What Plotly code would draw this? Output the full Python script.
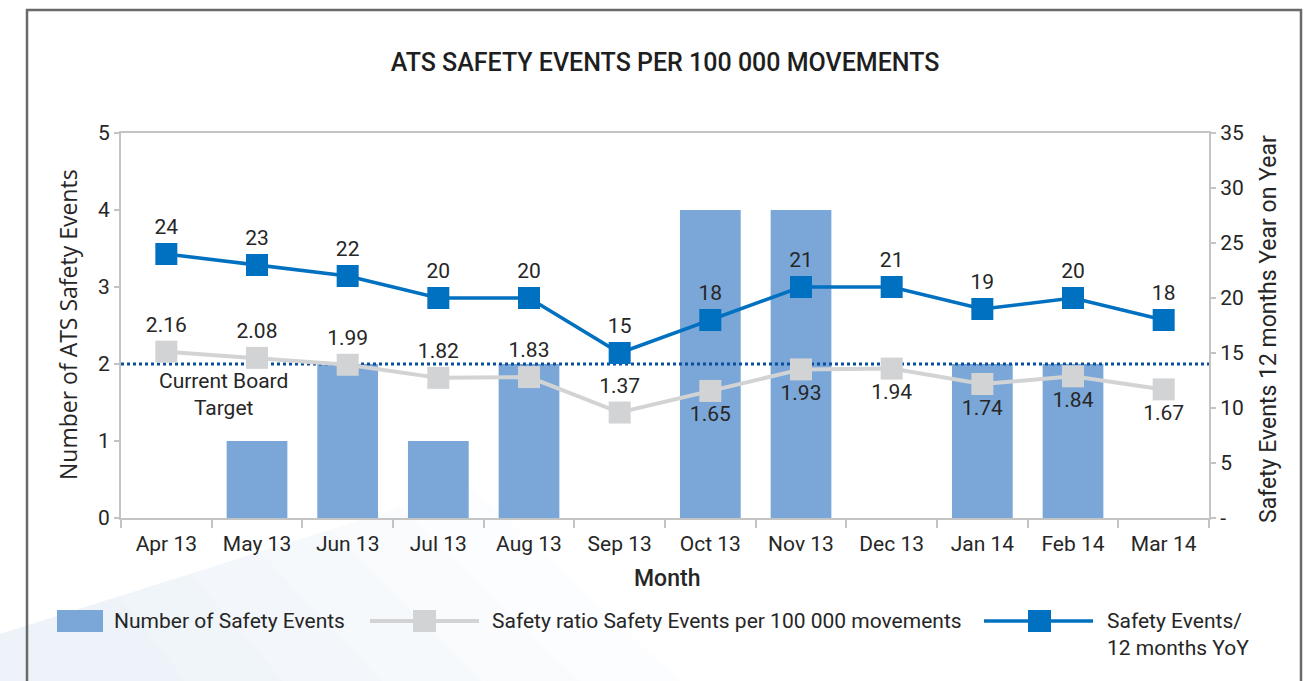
import plotly.graph_objects as go

# Monthly data
months = ["Apr 13", "May 13", "Jun 13", "Jul 13", "Aug 13", "Sep 13",
          "Oct 13", "Nov 13", "Dec 13", "Jan 14", "Feb 14", "Mar 14"]
safety_events = [0, 1, 2, 1, 2, 0, 4, 4, 0, 2, 2, 0]
safety_ratio = [2.16, 2.08, 1.99, 1.82, 1.83, 1.37, 1.65, 1.93, 1.94, 1.74, 1.84, 1.67]
events_yoy = [24, 23, 22, 20, 20, 15, 18, 21, 21, 19, 20, 18]
ratio_label_pos = ["top center"] * 6 + ["bottom center"] * 6
board_target = 2

left_ticks = [0, 1, 2, 3, 4, 5]
right_ticks = [0, 5, 10, 15, 20, 25, 30, 35]
right_ticktext = ["-", "5", "10", "15", "20", "25", "30", "35"]

W, H = 1313, 681
L, R, T, B = 121, 1209, 133, 518

FONT = "Roboto"
TXT = "#262626"
AX = "#c4c4c4"
BAR = "#7ba7d8"
GREY = "#d2d3d4"
BLUE = "#0070c0"
TARGET = "#0b4f9c"
FS = 21


def px(x):
    return (x - L) / (R - L)


def py(y):
    return (B - y) / (B - T)


xs = list(range(len(months)))
bar_x = [i for i, v in zip(xs, safety_events) if v]
bar_y = [v for v in safety_events if v]

fig = go.Figure()

fig.add_trace(go.Bar(
    x=bar_x, y=bar_y, width=0.67, marker=dict(color=BAR, line=dict(width=0)),
    name="Number of Safety Events", hoverinfo="skip",
))

fig.add_trace(go.Scatter(
    x=[-0.5, len(months) - 0.5], y=[board_target, board_target], mode="lines",
    line=dict(color=TARGET, width=3, dash="dot"), hoverinfo="skip",
))

fig.add_trace(go.Scatter(
    x=xs, y=safety_ratio, mode="lines+markers+text",
    line=dict(color=GREY, width=4),
    marker=dict(symbol="square", size=22, color=GREY),
    text=[f"{v:.2f}" for v in safety_ratio], textposition=ratio_label_pos,
    textfont=dict(family=FONT, size=FS, color=TXT),
    name="Safety ratio Safety Events per 100 000 movements",
))

fig.add_trace(go.Scatter(
    x=xs, y=events_yoy, mode="lines+markers+text", yaxis="y2",
    line=dict(color=BLUE, width=3.5),
    marker=dict(symbol="square", size=22, color=BLUE),
    text=[str(v) for v in events_yoy], textposition="top center",
    textfont=dict(family=FONT, size=FS, color=TXT),
    name="Safety Events/ 12 months YoY",
))

shapes = []
annotations = []

# faint backdrop wedge in the lower-left corner, fading to the right
for top_x, bot_x in [(120, 200), (190, 300), (260, 400), (330, 500), (400, 600), (470, 700)]:
    top_y = 634 - top_x * (114 / 360)
    pts = [(0, 700), (0, 634), (top_x, top_y), (bot_x, 700)]
    path = "M " + " L ".join(f"{px(a)},{py(b)}" for a, b in pts) + " Z"
    shapes.append(dict(type="path", xref="paper", yref="paper", path=path,
                       fillcolor="rgba(205,212,235,0.05)", line=dict(width=0),
                       layer="below"))

# outer frame
shapes.append(dict(type="rect", xref="paper", yref="paper",
                   x0=px(27), x1=px(1301), y0=py(700), y1=py(10),
                   line=dict(color="#6a6a6a", width=2.5), fillcolor="rgba(0,0,0,0)"))

# legend
LY = 621
shapes.append(dict(type="rect", xref="paper", yref="paper",
                   x0=px(57), x1=px(103), y0=py(632), y1=py(610),
                   fillcolor=BAR, line=dict(width=0)))
annotations.append(dict(x=px(112), y=py(LY), xref="paper", yref="paper",
                        text="Number of Safety Events", showarrow=False,
                        xanchor="left", yanchor="middle",
                        font=dict(family=FONT, size=FS, color=TXT)))

shapes.append(dict(type="line", xref="paper", yref="paper",
                   x0=px(370), x1=px(479), y0=py(LY), y1=py(LY),
                   line=dict(color=GREY, width=4)))
shapes.append(dict(type="rect", xref="paper", yref="paper",
                   x0=px(413), x1=px(436), y0=py(LY + 11), y1=py(LY - 11),
                   fillcolor=GREY, line=dict(width=0)))
annotations.append(dict(x=px(490), y=py(LY), xref="paper", yref="paper",
                        text="Safety ratio Safety Events per 100 000 movements",
                        showarrow=False, xanchor="left", yanchor="middle",
                        font=dict(family=FONT, size=FS, color=TXT)))

shapes.append(dict(type="line", xref="paper", yref="paper",
                   x0=px(984), x1=px(1093), y0=py(LY), y1=py(LY),
                   line=dict(color=BLUE, width=3.5)))
shapes.append(dict(type="rect", xref="paper", yref="paper",
                   x0=px(1028), x1=px(1051), y0=py(LY + 11), y1=py(LY - 11),
                   fillcolor=BLUE, line=dict(width=0)))
annotations.append(dict(x=px(1105), y=py(634), xref="paper", yref="paper",
                        text="Safety Events/<br>12 months YoY", showarrow=False,
                        xanchor="left", yanchor="middle", align="left",
                        font=dict(family=FONT, size=FS, color=TXT)))

# target label
annotations.append(dict(x=px(223), y=py(394), xref="paper", yref="paper",
                        text="Current Board<br>Target", showarrow=False,
                        xanchor="center", yanchor="middle", align="center",
                        font=dict(family=FONT, size=FS, color=TXT)))

# axis titles
annotations.append(dict(x=px(68), y=py(325), xref="paper", yref="paper",
                        text="Number of ATS Safety Events", showarrow=False,
                        textangle=-90, xanchor="center", yanchor="middle",
                        font=dict(family="Open Sans", size=23, color=TXT)))
annotations.append(dict(x=px(1268), y=py(329), xref="paper", yref="paper",
                        text="Safety Events 12 months Year on Year", showarrow=False,
                        textangle=-90, xanchor="center", yanchor="middle",
                        font=dict(family=FONT, size=23, color=TXT)))
annotations.append(dict(x=px(667), y=py(578), xref="paper", yref="paper",
                        text="Month", showarrow=False,
                        xanchor="center", yanchor="middle",
                        font=dict(family=FONT, size=23, color=TXT, weight=500)))

fig.update_layout(
    width=W, height=H,
    margin=dict(l=L, r=W - R, t=T, b=H - B, pad=0),
    paper_bgcolor="white", plot_bgcolor="rgba(0,0,0,0)",
    showlegend=False,
    title=dict(text="ATS SAFETY EVENTS PER 100 000 MOVEMENTS",
               x=665 / W, xanchor="center", y=1 - 62 / H, yanchor="middle",
               font=dict(family=FONT, size=25, color="#1e1e1e", weight=500)),
    font=dict(family=FONT, size=FS, color=TXT),
    xaxis=dict(
        range=[-0.5, len(months) - 0.5], tickvals=xs, ticktext=months,
        ticks="", showgrid=False, zeroline=False,
        showline=True, linecolor=AX, linewidth=2, mirror=True,
        ticklabelstandoff=6,
        tickfont=dict(family=FONT, size=FS, color=TXT),
        minor=dict(tickvals=[i - 0.5 for i in range(len(months) + 1)],
                   ticks="outside", ticklen=8, tickcolor=AX, tickwidth=2,
                   showgrid=False),
    ),
    yaxis=dict(
        range=[0, 5], tickvals=left_ticks, showgrid=False, zeroline=False,
        showline=True, linecolor=AX, linewidth=2,
        ticks="outside", ticklen=5, tickcolor=AX, tickwidth=2,
        tickfont=dict(family=FONT, size=FS, color=TXT),
    ),
    yaxis2=dict(
        range=[0, 35], tickvals=right_ticks, ticktext=right_ticktext,
        overlaying="y", side="right", showgrid=False, zeroline=False,
        showline=True, linecolor=AX, linewidth=2,
        ticks="outside", ticklen=5, tickcolor=AX, tickwidth=2,
        tickfont=dict(family=FONT, size=FS, color=TXT),
    ),
    shapes=shapes,
    annotations=annotations,
)

fig.write_html("out.html")
